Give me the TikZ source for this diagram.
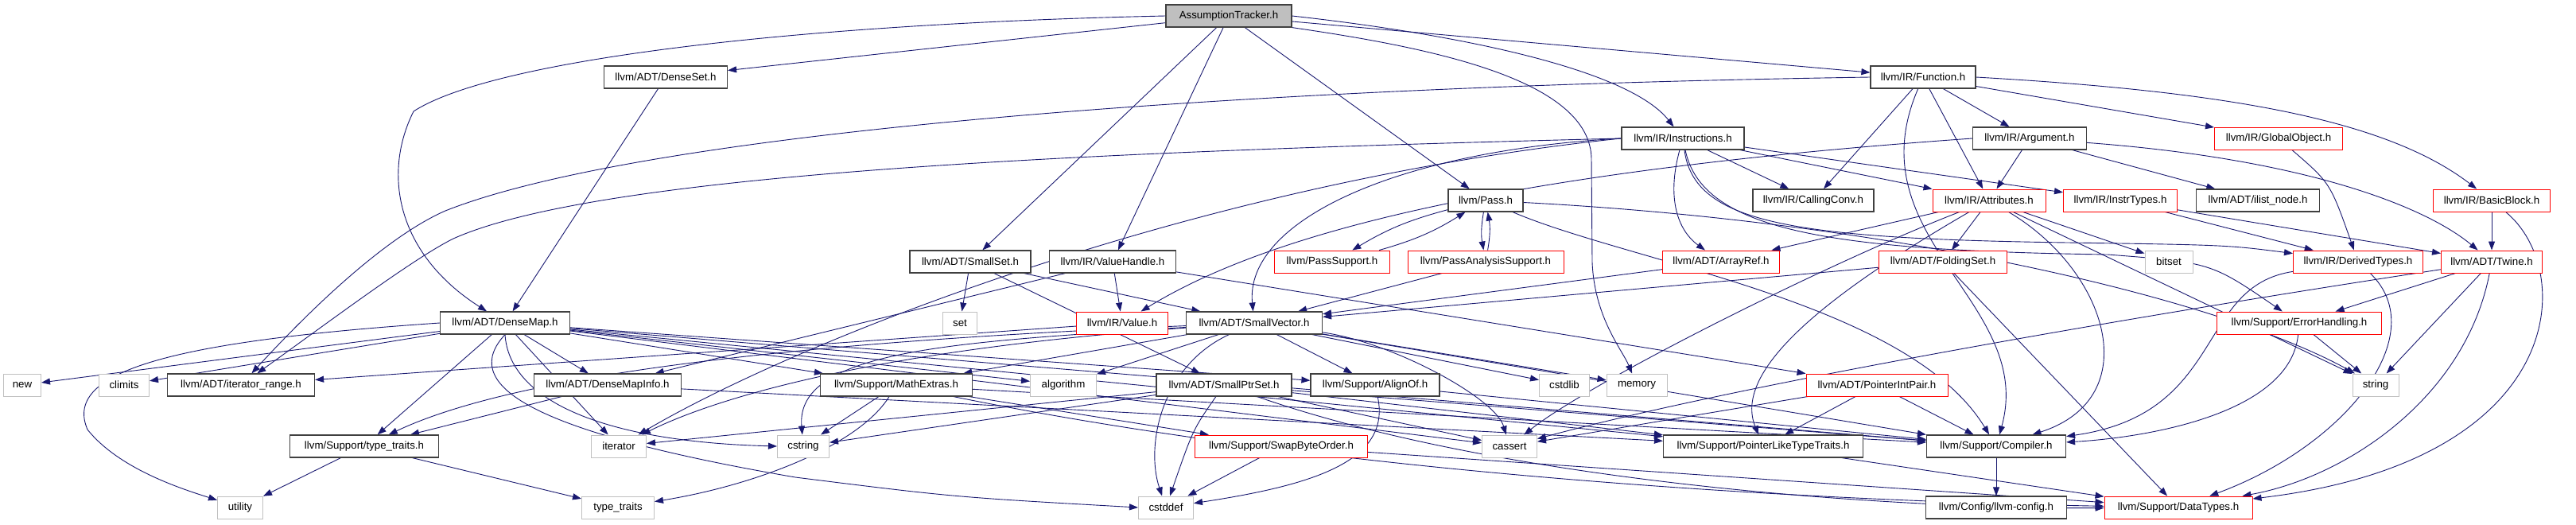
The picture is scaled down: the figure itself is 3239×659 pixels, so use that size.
\documentclass[tikz,border=0pt]{standalone}
\usepackage{fontspec}
\setmainfont{Liberation Sans}
\usetikzlibrary{arrows.meta}
\definecolor{edgeblue}{HTML}{191970}
\definecolor{hdrgray}{HTML}{404040}
\definecolor{sysgray}{HTML}{C0C0C0}
\definecolor{rootfill}{HTML}{BFBFBF}
\pgfdeclarelayer{bg}
\pgfsetlayers{bg,main}

\begin{document}
\begin{tikzpicture}[x=1pt, y=-1pt,
    hdr/.style={draw=hdrgray, line width=1.2pt, fill=white, minimum height=28pt,
      inner sep=0pt, font=\fontsize{13.3}{16}\selectfont},
    hdrred/.style={hdr, draw=red, line width=1pt},
    syshdr/.style={hdr, draw=sysgray, line width=1pt},
    roothdr/.style={hdr, fill=rootfill},
    incl/.style={draw=edgeblue, line width=0.9pt, -{Triangle[length=11pt,width=8pt]}}]
  \useasboundingbox (0,0) rectangle (3239,659);

  % Row 0 and 1
  \node[roothdr, minimum width=158pt] (at) at (1545,20) {AssumptionTracker.h};
  \node[hdr, minimum width=155pt] (denseset) at (837,97) {llvm/ADT/DenseSet.h};
  \node[hdr, minimum width=132pt] (function) at (2418,97) {llvm/IR/Function.h};

  % Row 2
  \node[hdr, minimum width=154pt] (instructions) at (2116,174) {llvm/IR/Instructions.h};
  \node[hdr, minimum width=143pt] (argument) at (2552,174) {llvm/IR/Argument.h};
  \node[hdrred, minimum width=161pt] (globalobject) at (2865,174) {llvm/IR/GlobalObject.h};

  % Row 3
  \node[hdr, minimum width=94pt] (pass) at (1868,252) {llvm/Pass.h};
  \node[hdr, minimum width=152pt] (callingconv) at (2280,252) {llvm/IR/CallingConv.h};
  \node[hdrred, minimum width=142pt] (attributes) at (2501,252) {llvm/IR/Attributes.h};
  \node[hdrred, minimum width=143pt] (instrtypes) at (2666,252) {llvm/IR/InstrTypes.h};
  \node[hdr, minimum width=155pt] (ilistnode) at (2839,252) {llvm/ADT/ilist\_node.h};
  \node[hdrred, minimum width=147pt] (basicblock) at (3133,252) {llvm/IR/BasicBlock.h};

  % Row 4
  \node[hdr, minimum width=152pt] (smallset) at (1220,329) {llvm/ADT/SmallSet.h};
  \node[hdr, minimum width=159pt] (valuehandle) at (1399,329) {llvm/IR/ValueHandle.h};
  \node[hdrred, minimum width=145pt] (passsupport) at (1675,329) {llvm/PassSupport.h};
  \node[hdrred, minimum width=196pt] (passanalysis) at (1868,329) {llvm/PassAnalysisSupport.h};
  \node[hdrred, minimum width=147pt] (arrayref) at (2164,329) {llvm/ADT/ArrayRef.h};
  \node[hdrred, minimum width=161pt] (foldingset) at (2443,329) {llvm/ADT/FoldingSet.h};
  \node[syshdr, minimum width=60pt] (bitset) at (2727,329) {bitset};
  \node[hdrred, minimum width=163pt] (derivedtypes) at (2965,329) {llvm/IR/DerivedTypes.h};
  \node[hdrred, minimum width=127pt] (twine) at (3133,329) {llvm/ADT/Twine.h};

  % Row 5
  \node[hdr, minimum width=163pt] (densemap) at (635,406) {llvm/ADT/DenseMap.h};
  \node[syshdr, minimum width=43pt] (set) at (1207,406) {set};
  \node[hdrred, minimum width=115pt] (value) at (1411,406) {llvm/IR/Value.h};
  \node[hdr, minimum width=171pt] (smallvector) at (1577,406) {llvm/ADT/SmallVector.h};
  \node[hdrred, minimum width=207pt] (errorhandling) at (2891,406) {llvm/Support/ErrorHandling.h};

  % Row 6
  \node[syshdr, minimum width=47pt] (newhdr) at (28,484) {new};
  \node[syshdr, minimum width=63pt] (climits) at (156,484) {climits};
  \node[hdr, minimum width=185pt] (iterrange) at (303,484) {llvm/ADT/iterator\_range.h};
  \node[hdr, minimum width=185pt] (densemapinfo) at (764,484) {llvm/ADT/DenseMapInfo.h};
  \node[hdr, minimum width=191pt] (mathextras) at (1127,484) {llvm/Support/MathExtras.h};
  \node[syshdr, minimum width=83pt] (algorithm) at (1337,484) {algorithm};
  \node[hdr, minimum width=170pt] (smallptrset) at (1539,484) {llvm/ADT/SmallPtrSet.h};
  \node[hdr, minimum width=162pt] (alignof) at (1729,484) {llvm/Support/AlignOf.h};
  \node[syshdr, minimum width=63pt] (cstdlib) at (1967,484) {cstdlib};
  \node[syshdr, minimum width=76pt] (memory) at (2058,484) {memory};
  \node[hdrred, minimum width=178pt] (pointerintpair) at (2360,484) {llvm/ADT/PointerIntPair.h};
  \node[syshdr, minimum width=58pt] (string) at (2987,484) {string};

  % Row 7
  \node[hdr, minimum width=187pt] (typetraitsh) at (458,561) {llvm/Support/type\_traits.h};
  \node[syshdr, minimum width=69pt] (iterator) at (778,561) {iterator};
  \node[syshdr, minimum width=65pt] (cstring) at (1010,561) {cstring};
  \node[hdrred, minimum width=217pt] (swapbyteorder) at (1611,561) {llvm/Support/SwapByteOrder.h};
  \node[syshdr, minimum width=69pt] (cassert) at (1898,561) {cassert};
  \node[hdr, minimum width=251pt] (ptrlike) at (2217,561) {llvm/Support/PointerLikeTypeTraits.h};
  \node[hdr, minimum width=175pt] (compiler) at (2510,561) {llvm/Support/Compiler.h};

  % Row 8
  \node[syshdr, minimum width=57pt] (utility) at (302,638) {utility};
  \node[syshdr, minimum width=91pt] (typetraits) at (777,638) {type\_traits};
  \node[syshdr, minimum width=69pt] (cstddef) at (1466,638) {cstddef};
  \node[hdr, minimum width=177pt] (llvmconfig) at (2510,638) {llvm/Config/llvm-config.h};
  \node[hdrred, minimum width=186pt] (datatypes) at (2739,638) {llvm/Support/DataTypes.h};

  \begin{pgfonlayer}{bg}
  % AssumptionTracker.h
  \draw[incl] (at.west) .. controls (1000,30) and (620,75) .. (520,140) .. controls (480,220) and (500,320) .. (densemap);
  \draw[incl] (at) -- (denseset);
  \draw[incl] (at) -- (smallset);
  \draw[incl] (at) -- (valuehandle);
  \draw[incl] (at) -- (pass);
  \draw[incl] (at) -- (function);
  \draw[incl] (at.east) .. controls (1850,45) and (2050,90) .. (instructions);
  \draw[incl] (at.south east) .. controls (1800,60) and (2000,100) .. (2001,200) -- (2002,330) .. controls (2005,400) and (2040,440) .. (memory);

  % DenseSet.h
  \draw[incl] (denseset) -- (densemap);

  % Function.h
  \draw[incl] (function.west) .. controls (1500,110) and (800,170) .. (560,265) .. controls (480,300) and (380,400) .. (iterrange);
  \draw[incl] (function) -- (callingconv);
  \draw[incl] (function) -- (attributes);
  \draw[incl] (function) -- (argument);
  \draw[incl] (function) -- (globalobject);
  \draw[incl] (function.east) .. controls (2800,115) and (3000,150) .. (basicblock);
  \draw[incl] (function) .. controls (2330,300) and (2560,380) .. (compiler);

  % Instructions.h
  \draw[incl] (instructions.west) .. controls (1400,190) and (760,215) .. (570,300) .. controls (520,325) and (420,400) .. (iterrange);
  \draw[incl] (instructions.west) .. controls (1750,190) and (1565,280) .. (smallvector);
  \draw[incl] (instructions.west) .. controls (1500,230) and (1000,430) .. (iterator);
  \draw[incl] (instructions) .. controls (2095,250) and (2110,290) .. (arrayref);
  \draw[incl] (instructions) -- (callingconv);
  \draw[incl] (instructions) -- (attributes);
  \draw[incl] (instructions) -- (instrtypes);
  \draw[incl] (instructions) .. controls (2130,280) and (2250,300) .. (2600,305) .. controls (2800,308) .. (derivedtypes);
  \draw[incl] (instructions) .. controls (2140,290) and (2300,315) .. (2650,320) .. controls (2780,330) .. (errorhandling);

  % Pass.h and its support headers
  \draw[incl] (pass) to[bend right=8] (passsupport);
  \draw[incl] (passsupport) to[bend right=8] (pass);
  \draw[incl] (pass) to[bend right=10] (passanalysis);
  \draw[incl] (passanalysis) to[bend right=10] (pass);
  \draw[incl] (pass) .. controls (2400,280) and (2800,380) .. (string);
  \draw[incl] (pass) .. controls (2050,330) and (2400,380) .. (compiler);
  \draw[incl] (passanalysis) -- (smallvector);

  % Argument.h
  \draw[incl] (argument) -- (attributes);
  \draw[incl] (argument) -- (ilistnode);
  \draw[incl] (argument) .. controls (2900,200) and (3050,260) .. (twine);
  \draw[incl] (argument.west) .. controls (1900,215) and (1600,290) .. (value);

  % GlobalObject.h, InstrTypes.h, BasicBlock.h
  \draw[incl] (globalobject) .. controls (2930,230) .. (derivedtypes);
  \draw[incl] (instrtypes) -- (derivedtypes);
  \draw[incl] (instrtypes) -- (twine);
  \draw[incl] (basicblock) -- (twine);
  \draw[incl] (basicblock) .. controls (3240,340) and (3230,580) .. (datatypes);

  % Attributes.h
  \draw[incl] (attributes) -- (arrayref);
  \draw[incl] (attributes) -- (foldingset);
  \draw[incl] (attributes) -- (bitset);
  \draw[incl] (attributes) -- (string);
  \draw[incl] (attributes) .. controls (2300,330) and (2000,480) .. (cassert);
  \draw[incl] (attributes) .. controls (2280,380) and (2180,470) .. (ptrlike);
  \draw[incl] (attributes) .. controls (2650,340) and (2700,500) .. (compiler);

  % FoldingSet.h, ArrayRef.h
  \draw[incl] (foldingset) -- (smallvector);
  \draw[incl] (foldingset) -- (datatypes);
  \draw[incl] (arrayref) -- (smallvector);

  % SmallSet.h, ValueHandle.h, Value.h
  \draw[incl] (smallset) -- (set);
  \draw[incl] (smallset) -- (smallptrset);
  \draw[incl] (smallset) -- (smallvector);
  \draw[incl] (valuehandle) -- (value);
  \draw[incl] (valuehandle) -- (densemapinfo);
  \draw[incl] (valuehandle) -- (pointerintpair);
  \draw[incl] (value) -- (iterrange);

  % DenseMap.h
  \draw[incl] (densemap) -- (newhdr);
  \draw[incl] (densemap) -- (climits);
  \draw[incl] (densemap.west) .. controls (200,430) and (80,470) .. (110,540) .. controls (150,590) and (230,615) .. (utility);
  \draw[incl] (densemap) -- (densemapinfo);
  \draw[incl] (densemap) -- (iterator);
  \draw[incl] (densemap) -- (typetraitsh);
  \draw[incl] (densemap.south) .. controls (640,500) and (750,555) .. (cstring.west);
  \draw[incl] (densemap.south) .. controls (580,480) and (650,540) .. (1000,600) .. controls (1200,625) .. (cstddef.west);
  \draw[incl] (densemap) -- (algorithm);
  \draw[incl] (densemap) -- (mathextras);
  \draw[incl] (densemap) -- (alignof);
  \draw[incl] (densemap) -- (cassert);
  \draw[incl] (densemap) -- (ptrlike);
  \draw[incl] (densemap) -- (compiler);

  % DenseMapInfo.h
  \draw[incl] (densemapinfo) -- (typetraitsh);
  \draw[incl] (densemapinfo) -- (ptrlike);

  % SmallVector.h
  \draw[incl] (smallvector) -- (alignof);
  \draw[incl] (smallvector) -- (compiler);
  \draw[incl] (smallvector) -- (mathextras);
  \draw[incl] (smallvector) .. controls (1000,430) and (650,470) .. (typetraitsh);
  \draw[incl] (smallvector) -- (algorithm);
  \draw[incl] (smallvector) .. controls (1750,430) and (1880,500) .. (cassert);
  \draw[incl] (smallvector) .. controls (1460,460) and (1440,560) .. (cstddef);
  \draw[incl] (smallvector) -- (cstdlib);
  \draw[incl] (smallvector) .. controls (1200,430) and (1000,440) .. (cstring);
  \draw[incl] (smallvector) .. controls (1100,440) and (900,500) .. (iterator);
  \draw[incl] (smallvector) -- (memory);

  % MathExtras.h
  \draw[incl] (mathextras) -- (cstring);
  \draw[incl] (mathextras) .. controls (1080,560) and (950,610) .. (typetraits);
  \draw[incl] (mathextras) -- (swapbyteorder);
  \draw[incl] (mathextras) -- (compiler);
  \draw[incl] (mathextras) .. controls (1700,600) and (2300,630) .. (datatypes);

  % SmallPtrSet.h
  \draw[incl] (smallptrset) .. controls (1500,540) .. (cstddef);
  \draw[incl] (smallptrset) -- (cstring);
  \draw[incl] (smallptrset) -- (iterator);
  \draw[incl] (smallptrset) -- (cassert);
  \draw[incl] (smallptrset) -- (ptrlike);
  \draw[incl] (smallptrset) -- (compiler);
  \draw[incl] (smallptrset) .. controls (1900,610) and (2400,640) .. (datatypes);

  % AlignOf.h, type_traits.h, PointerLikeTypeTraits.h, Compiler.h
  \draw[incl] (alignof) .. controls (1750,580) and (1650,610) .. (cstddef);
  \draw[incl] (alignof) -- (compiler);
  \draw[incl] (typetraitsh) -- (utility);
  \draw[incl] (typetraitsh) -- (typetraits);
  \draw[incl] (ptrlike) -- (datatypes);
  \draw[incl] (compiler) -- (llvmconfig);

  % SwapByteOrder.h, PointerIntPair.h
  \draw[incl] (swapbyteorder) -- (cstddef);
  \draw[incl] (swapbyteorder) -- (datatypes);
  \draw[incl] (pointerintpair) -- (ptrlike);
  \draw[incl] (pointerintpair) -- (compiler);
  \draw[incl] (pointerintpair) -- (cassert);

  % Twine.h, ErrorHandling.h, DerivedTypes.h
  \draw[incl] (twine) -- (errorhandling);
  \draw[incl] (twine) -- (string);
  \draw[incl] (twine) .. controls (3100,500) and (2950,600) .. (datatypes);
  \draw[incl] (twine) .. controls (2700,395) and (2200,480) .. (cassert);
  \draw[incl] (errorhandling) .. controls (2880,520) and (2700,550) .. (compiler);
  \draw[incl] (errorhandling) -- (string);
  \draw[incl] (derivedtypes) .. controls (3060,420) and (2950,560) .. (datatypes);
  \draw[incl] (derivedtypes) .. controls (2760,360) and (2800,520) .. (compiler);
  \end{pgfonlayer}
\end{tikzpicture}
\end{document}
